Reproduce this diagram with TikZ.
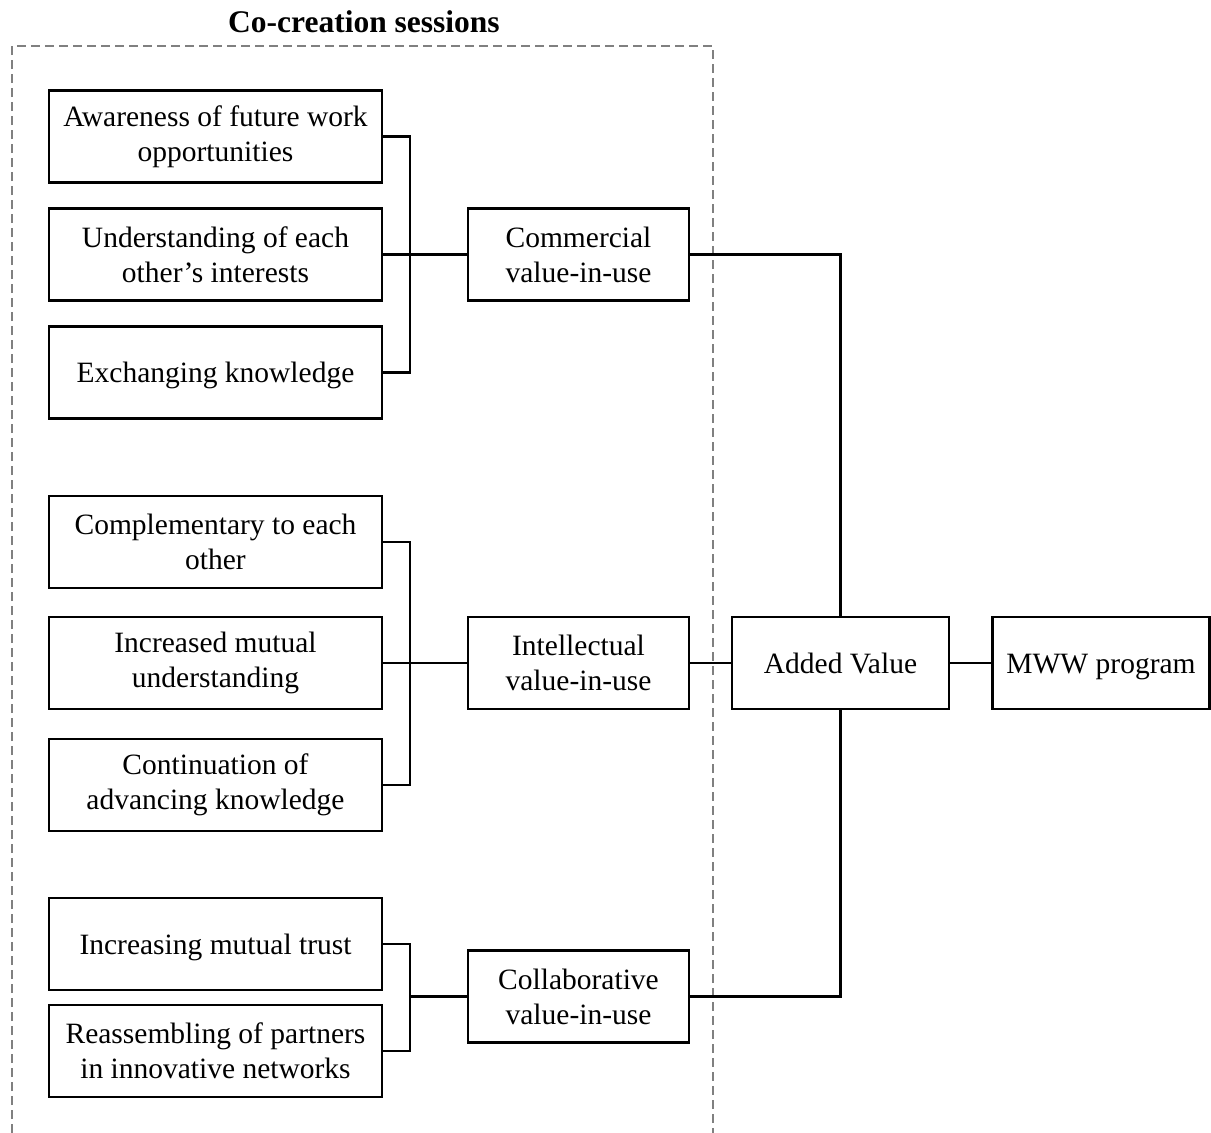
\documentclass[tikz,border=0pt]{standalone}
\usepackage{fontspec}
\setmainfont{Liberation Serif}
\begin{document}
\begin{tikzpicture}[x=1pt,y=-1pt,
  box/.style={draw=black, line width=2.2pt, rectangle, align=center, inner sep=0pt,
    minimum height=92pt, font=\fontsize{29.5}{35}\selectfont},
  oneline/.style={text height=20pt, text depth=0pt},
  wbox/.style={box, minimum width=333pt},
  vbox/.style={box, minimum width=221pt},
  conn/.style={draw=black, line width=2.4pt},
  frame/.style={draw=black!50, line width=1.6pt, dash pattern=on 9pt off 5pt}]
\useasboundingbox (0,0) rectangle (1211,1133);
% group frame
\node[font=\fontsize{31.5}{36}\selectfont\bfseries] (title) at (364,22) {Co-creation sessions};
\draw[frame] (12,1133) -- (12,46) -- (713,46) -- (713,1133);
% left boxes
\node[wbox] (b1) at (215.5,136.5) {Awareness of future work\\opportunities};
\node[wbox] (b2) at (215.5,254.5) {Understanding of each\\other’s interests};
\node[wbox, oneline] (b3) at (215.5,372.5) {Exchanging knowledge};
\node[wbox] (b4) at (215.5,542) {Complementary to each\\other};
\node[wbox] (b5) at (215.5,663) {Increased mutual\\understanding};
\node[wbox] (b6) at (215.5,785) {Continuation of\\advancing knowledge};
\node[wbox, oneline] (b7) at (215.5,944) {Increasing mutual trust};
\node[wbox] (b8) at (215.5,1051) {Reassembling of partners\\in innovative networks};
% value boxes
\node[vbox] (com) at (578.5,254.5) {Commercial\\value-in-use};
\node[vbox] (int) at (578.5,663) {Intellectual\\value-in-use};
\node[vbox] (col) at (578.5,996.5) {Collaborative\\value-in-use};
\node[box, oneline, minimum width=217pt] (add) at (840.5,663) {Added Value};
\node[box, oneline, minimum width=217pt] (mww) at (1101,663) {MWW program};
% junctions
\coordinate (j1) at (410,254.5);
\coordinate (j2) at (410,663);
\coordinate (j3) at (410,996.5);
% connectors
\draw[conn] (b1.east) -| (j1) |- (b3.east);
\draw[conn] (b2.east) -- (com.west);
\draw[conn] (b4.east) -| (j2) |- (b6.east);
\draw[conn] (b5.east) -- (int.west);
\draw[conn] (b7.east) -| (j3) |- (b8.east);
\draw[conn] (j3) -- (col.west);
\draw[conn] (com.east) -| (add.north);
\draw[conn] (col.east) -| (add.south);
\draw[conn] (int.east) -- (add.west);
\draw[conn] (add.east) -- (mww.west);
\end{tikzpicture}
\end{document}
